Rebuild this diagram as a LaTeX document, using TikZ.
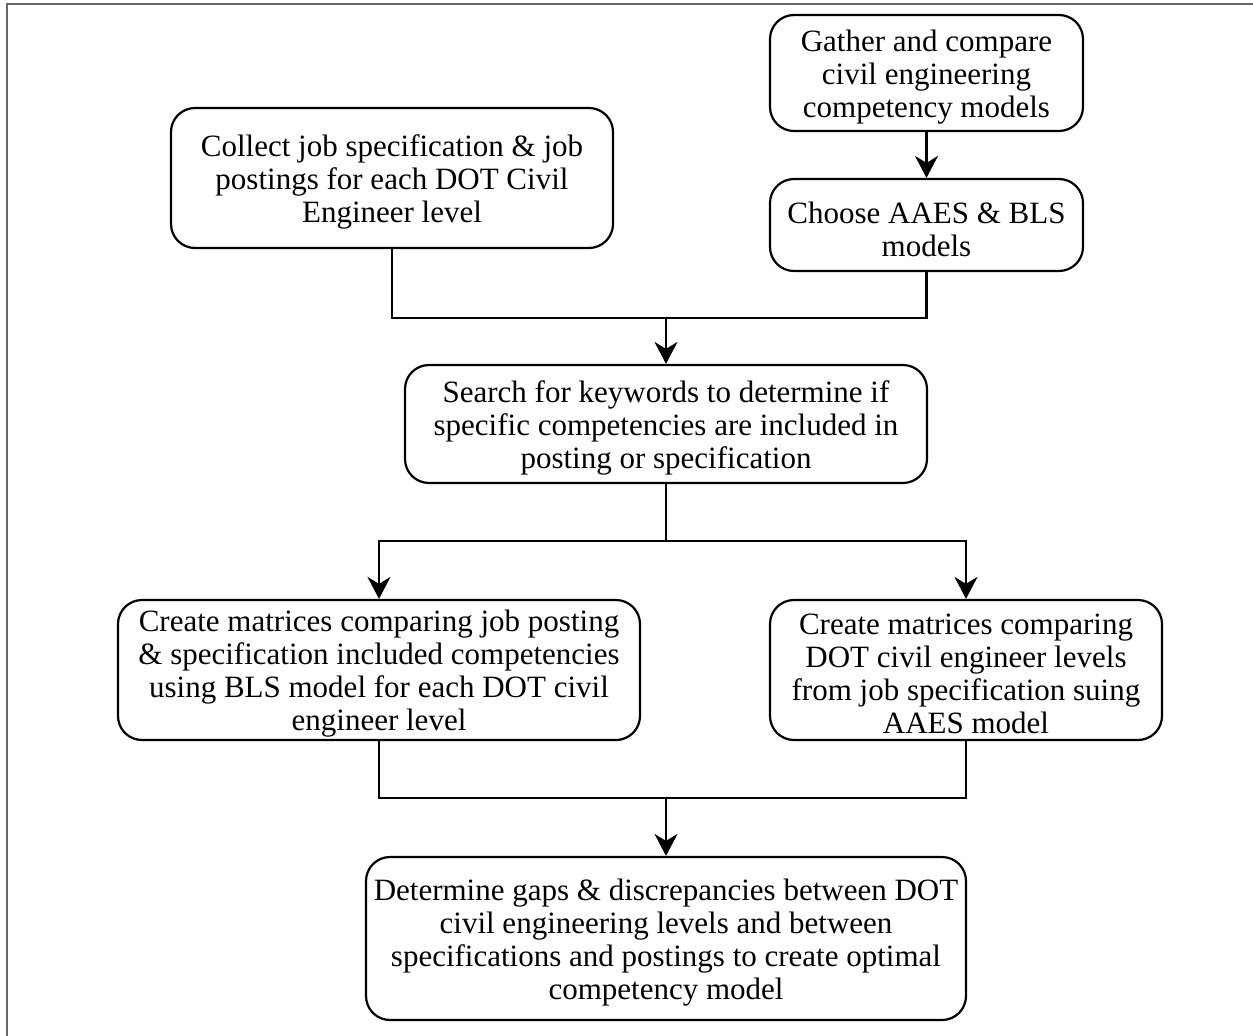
\documentclass[tikz,border=0pt]{standalone}
\usepackage{fontspec}
\setmainfont{Liberation Serif}
\usetikzlibrary{arrows.meta}
\begin{document}
\begin{tikzpicture}[x=1pt,y=-1pt,
  box/.style={draw=black,line width=2.2pt,rounded corners=24pt,inner sep=0pt},
  txt/.style={align=center,inner sep=0pt,yshift=-4pt,font=\fontsize{31}{33}\selectfont},
  conn/.style={line width=2.2pt},
  arr/.style={conn,-{Stealth[length=22pt,width=23pt,inset=7pt]}}]
\useasboundingbox (0,0) rectangle (1253,1036);
\draw[line width=2pt,black!60] (7,1036) -- (7,4) -- (1253,4);
\node[box,minimum width=442pt,minimum height=140pt] (collect) at (392,178) {};
\node[txt] (collectT) at (collect.center)
  {Collect job specification \& job\\postings for each DOT Civil\\Engineer level};
\node[box,minimum width=313pt,minimum height=116pt] (gather) at (926.5,73) {};
\node[txt] (gatherT) at (gather.center)
  {Gather and compare\\civil engineering\\competency models};
\node[box,minimum width=313pt,minimum height=92pt] (choose) at (926.5,225) {};
\node[txt] (chooseT) at (choose.center)
  {Choose AAES \& BLS\\models};
\node[box,minimum width=522pt,minimum height=118pt] (search) at (666,424) {};
\node[txt] (searchT) at (search.center)
  {Search for keywords to determine if\\specific competencies are included in\\posting or specification};
\node[box,minimum width=522pt,minimum height=140pt] (left) at (379,670) {};
\node[txt] (leftT) at (left.center)
  {Create matrices comparing job posting\\\& specification included competencies\\using BLS model for each DOT civil\\engineer level};
\node[box,minimum width=392pt,minimum height=140pt] (right) at (966,670) {};
\node[txt] (rightT) at (right.center)
  {Create matrices comparing\\DOT civil engineer levels\\from job specification suing\\AAES model};
\node[box,minimum width=600pt,minimum height=163pt] (determine) at (666,938.5) {};
\node[txt] (determineT) at (determine.center)
  {Determine gaps \& discrepancies between DOT\\civil engineering levels and between\\specifications and postings to create optimal\\competency model};
\coordinate (j1) at (666,318);
\coordinate (j2) at (666,541);
\coordinate (j3) at (666,798);
\draw[arr] (gather) -- (choose);
\draw[conn] (collect.south) |- (j1) -| (choose.south);
\draw[arr] (j1) -- (search.north);
\draw[conn] (search.south) -- (j2);
\draw[arr] (j2) -| (left.north);
\draw[arr] (j2) -| (right.north);
\draw[conn] (left.south) |- (j3) -| (right.south);
\draw[arr] (j3) -- (determine.north);
\end{tikzpicture}
\end{document}
